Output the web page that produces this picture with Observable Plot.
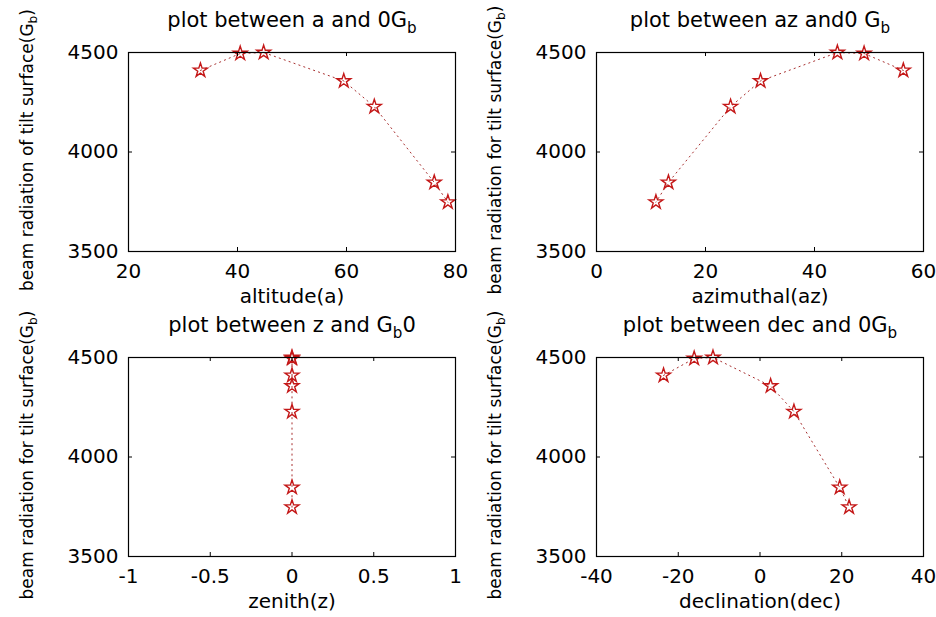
<!DOCTYPE html>
<html><head><meta charset="utf-8">
<script src="https://cdn.jsdelivr.net/npm/d3@7"></script>
<script src="https://cdn.jsdelivr.net/npm/@observablehq/plot@0.6"></script>
<style>
html,body{margin:0;padding:0;background:#fff;}
#root{position:relative;width:936px;height:617px;overflow:hidden;background:#fff;}
.panel{position:absolute;}
</style></head><body><div id="root"></div>
<script>
// ---- data ----
const Gb = [4410, 4495, 4500, 4357, 4228, 3847, 3748];
const altitude = [33.2, 40.5, 44.8, 59.5, 65.1, 76.1, 78.6];
const azimuthal = [56.3, 49.1, 44.2, 30.1, 24.6, 13.2, 10.9];
const zenith = [0, 0, 0, 0, 0, 0, 0];
const declination = [-23.6, -16.1, -11.5, 2.6, 8.3, 19.5, 21.8];

const yTicks = [3500, 4000, 4500];
const yTickLabels = ["3500", "4000", "4500"];
const altTicks = [20, 40, 60, 80];
const altTickLabels = ["20", "40", "60", "80"];
const azTicks = [0, 20, 40, 60];
const azTickLabels = ["0", "20", "40", "60"];
const zenTicks = [-1, -0.5, 0, 0.5, 1];
const zenTickLabels = ["-1", "-0.5", "0", "0.5", "1"];
const decTicks = [-40, -20, 0, 20, 40];
const decTickLabels = ["-40", "-20", "0", "20", "40"];

const titles = ["plot between a and 0G_{b}", "plot between az and0 G_{b}", "plot between z and G_{b}0", "plot between dec and 0G_{b}"];
const xLabels = ["altitude(a)", "azimuthal(az)", "zenith(z)", "declination(dec)"];
const yLabels = ["beam radiation of tilt surface(G_{b})", "beam radiation for tilt surface(G_{b})", "beam radiation for tilt surface(G_{b})", "beam radiation for tilt surface(G_{b})"];

const xSeries = [altitude, azimuthal, zenith, declination];
const xTickSets = [altTicks, azTicks, zenTicks, decTicks];
const xTickLabelSets = [altTickLabels, azTickLabels, zenTickLabels, decTickLabels];

// ---- layout ----
const W = 468, ML = 128, MR = 13, MT = 52;
const FW = W - ML - MR, FH = 199, TL = 4;
const slots = [
  {left: 0, top: 0, h: 305}, {left: 468, top: 0, h: 305},
  {left: 0, top: 305, h: 312}, {left: 468, top: 305, h: 312}
];

function subscriptify(svg) {
  d3.select(svg).selectAll("text").each(function () {
    const t = this.textContent;
    if (!t.includes("_{")) return;
    const parts = t.split(/(_\{[^}]*\})/).filter(s => s.length);
    const el = d3.select(this);
    el.text(null);
    let shifted = false;
    for (const p of parts) {
      const m = p.match(/^_\{(.*)\}$/);
      if (m) {
        el.append("tspan").attr("dy", "0.35em").attr("font-size", "72%").text(m[1]);
        shifted = true;
      } else {
        const ts = el.append("tspan").text(p);
        if (shifted) { ts.attr("dy", "-0.26em"); shifted = false; }
      }
    }
  });
}

const root = document.getElementById("root");
for (let i = 0; i < 4; i++) {
  const s = slots[i];
  const data = Gb.map((g, j) => ({x: xSeries[i][j], y: g}));
  const xt = xTickSets[i], xl = xTickLabelSets[i];
  const chart = Plot.plot({
    width: W, height: s.h,
    marginLeft: ML, marginRight: MR, marginTop: MT, marginBottom: s.h - MT - FH,
    style: {fontFamily: "DejaVu Sans", fontSize: "20px", background: "transparent", overflow: "visible", color: "black"},
    x: {domain: [xt[0], xt[xt.length - 1]], ticks: xt},
    y: {domain: [yTicks[0], yTicks[yTicks.length - 1]], ticks: yTicks},
    marks: [
      Plot.line(data, {x: "x", y: "y", stroke: "#a83030", strokeWidth: 1, strokeDasharray: "1.2,4"}),
      Plot.dot(data, {x: "x", y: "y", symbol: "star", r: 4.4, fill: "none", stroke: "#c41818", strokeWidth: 1.4}),
      Plot.frame({stroke: "black", strokeWidth: 1.2}),
      Plot.ruleX(xt, {x: d => d, insetTop: FH - TL, stroke: "black"}),
      Plot.ruleX(xt, {x: d => d, insetBottom: FH - TL, stroke: "black"}),
      Plot.ruleY(yTicks, {y: d => d, insetRight: FW - TL, stroke: "black"}),
      Plot.ruleY(yTicks, {y: d => d, insetLeft: FW - TL, stroke: "black"}),
      Plot.axisX({ticks: xt, tickSize: 0, tickPadding: 12, tickFormat: d => xl[xt.indexOf(d)], label: null, fontSize: 20}),
      Plot.axisY({ticks: yTicks, tickSize: 0, tickPadding: 10, tickFormat: d => yTickLabels[yTicks.indexOf(d)], label: null, fontSize: 20}),
      Plot.text([xLabels[i]], {text: d => d, frameAnchor: "bottom", textAnchor: "middle", lineAnchor: "middle", dy: 45, fontSize: 20, fill: "black"}),
      Plot.text([titles[i]], {text: d => d, frameAnchor: "top", textAnchor: "middle", lineAnchor: "middle", dy: -32, fontSize: 21, fill: "black"}),
      Plot.text([yLabels[i]], {text: d => d, frameAnchor: "left", textAnchor: "middle", lineAnchor: "middle", rotate: -90, dx: -101, dy: -2, fontSize: 17, fill: "black"})
    ]
  });
  subscriptify(chart);
  chart.classList.add("panel");
  chart.style.left = s.left + "px";
  chart.style.top = s.top + "px";
  chart.style.position = "absolute";
  root.appendChild(chart);
}
</script></body></html>
